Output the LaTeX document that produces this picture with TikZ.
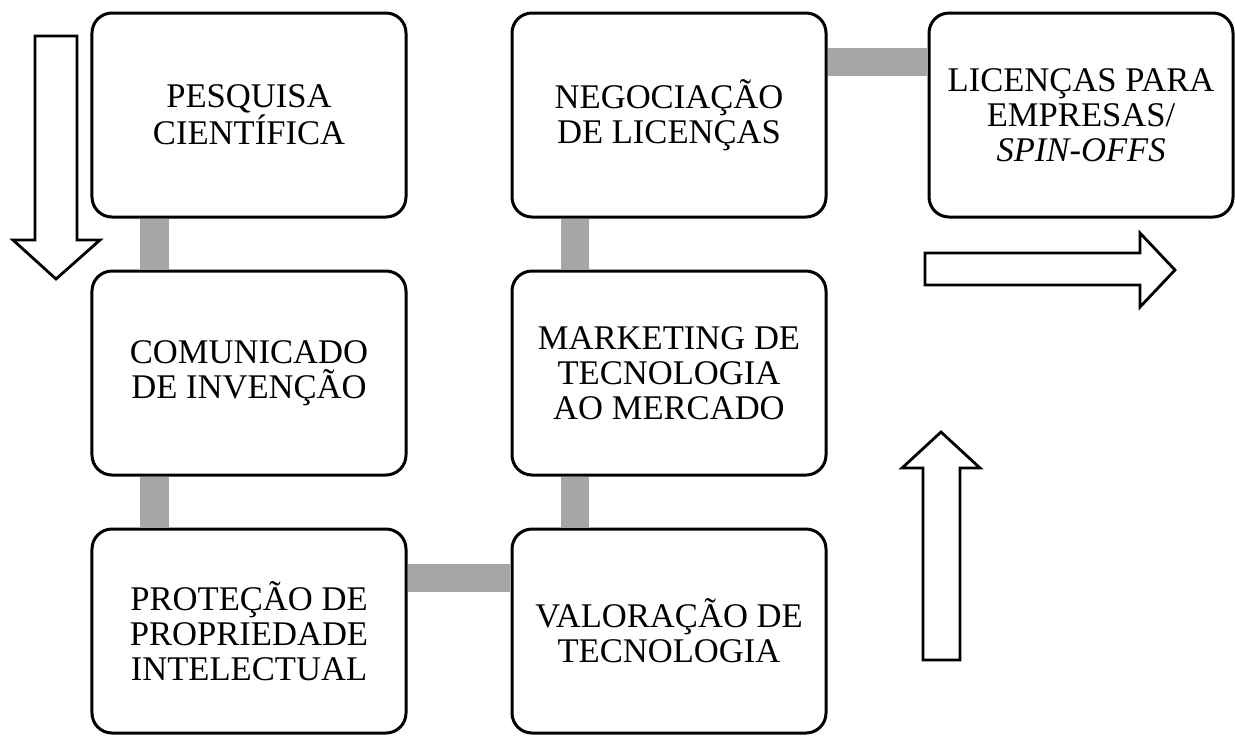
\documentclass[tikz,border=0pt]{standalone}
\usepackage{fontspec}
\setmainfont{Liberation Serif}
\usetikzlibrary{
        positioning
    }
\tikzset{etapa/.style={draw,line width=0.75mm,rounded corners=5mm,fill=white,
        minimum width=78.5mm,minimum height=51mm,align=center,
        font=\fontsize{24.6pt}{25pt}\selectfont}}
\tikzset{barra/.style={draw=black!35,line width=7mm}}
\tikzset{seta/.style={draw,line width=0.7mm,fill=white,line join=miter}}

\begin{document}
\begin{tikzpicture}[x=0.25mm,y=-0.25mm,node distance=12.75mm]
    \useasboundingbox (0,0) rectangle (1235,735);
    % etapas
    \node[etapa] (pesquisa) at (249,115) {PESQUISA\\CIENTÍFICA};
    \node[etapa] (comunicado) [below=of pesquisa] {COMUNICADO\\DE INVENÇÃO};
    \node[etapa] (protecao) [below=of comunicado] {PROTEÇÃO DE\\PROPRIEDADE\\INTELECTUAL};
    \node[etapa] (valoracao) [right=25.75mm of protecao] {VALORAÇÃO DE\\TECNOLOGIA};
    \node[etapa] (marketing) [above=of valoracao] {MARKETING DE\\TECNOLOGIA\\AO MERCADO};
    \node[etapa] (negociacao) [above=of marketing] {NEGOCIAÇÃO\\DE LICENÇAS};
    \node[etapa,minimum width=76mm] (licencas) [right=25mm of negociacao]
        {LICENÇAS PARA\\EMPRESAS/\\\textit{SPIN-OFFS}};
    % ligacoes
    \draw[barra] ([xshift=16mm]pesquisa.south west) -- ([xshift=16mm]comunicado.north west);
    \draw[barra] ([xshift=16mm]comunicado.south west) -- ([xshift=16mm]protecao.north west);
    \draw[barra] ([yshift=-12.7mm]protecao.north east) -- ([yshift=-12.7mm]valoracao.north west);
    \draw[barra] ([xshift=16mm]valoracao.north west) -- ([xshift=16mm]marketing.south west);
    \draw[barra] ([xshift=16mm]marketing.north west) -- ([xshift=16mm]negociacao.south west);
    \draw[barra] ([yshift=-12.7mm]negociacao.north east) -- ([yshift=-12.7mm]licencas.north west);
    % setas
    \draw[seta] (35,36) -- (77,36) -- (77,240) -- (100,240) -- (56,279) -- (13,240) -- (35,240) -- cycle;
    \draw[seta] (923,660) -- (960,660) -- (960,468) -- (980,468) -- (941,432) -- (902,468) -- (923,468) -- cycle;
    \draw[seta] (925,253) -- (1140,253) -- (1140,233) -- (1175,270) -- (1140,307) -- (1140,285) -- (925,285) -- cycle;
\end{tikzpicture}
\end{document}
